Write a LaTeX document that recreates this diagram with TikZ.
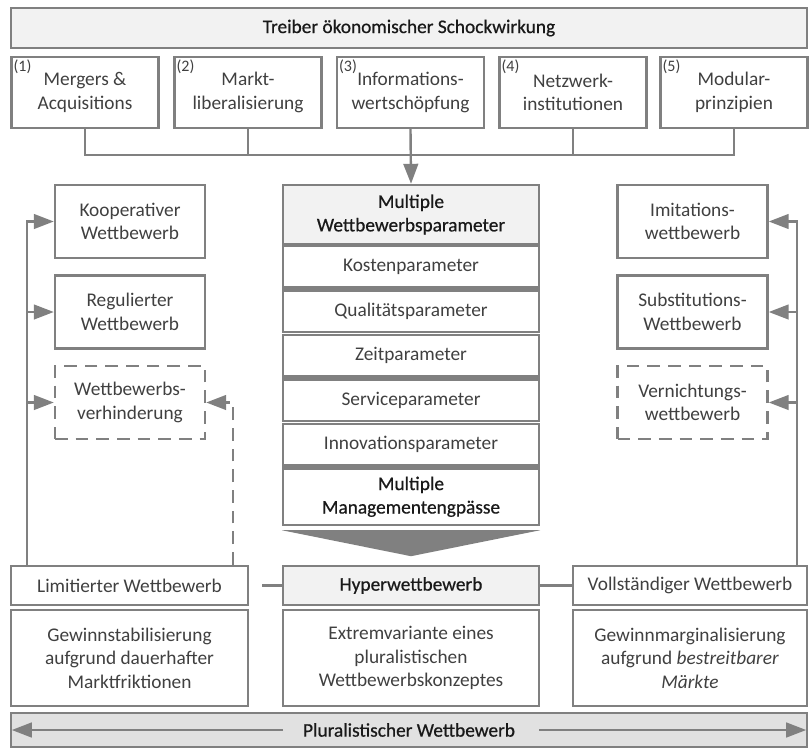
\documentclass[tikz,border=0pt]{standalone}
\usepackage{fontspec}
\setmainfont{Carlito}
\newfontfamily\heavyfont[FakeBold=0.6]{Carlito}
\usetikzlibrary{arrows.meta}
\usetikzlibrary{positioning}
\usetikzlibrary{calc}
\definecolor{linegray}{RGB}{128,128,128}
\definecolor{textgray}{RGB}{64,64,64}
\definecolor{lightfill}{RGB}{242,242,242}
\definecolor{plurfill}{RGB}{225,225,225}

\begin{document}
\begin{tikzpicture}[x=0.75pt,y=0.75pt,yscale=-1,xscale=1,
  box/.style={draw=linegray, line width=1.8pt, fill=white, inner sep=0pt, align=center, text=textgray, font=\fontsize{14.5}{17.6}\selectfont},
  dbox/.style={box, dash pattern={on 9.5pt off 6pt}},
  hbox/.style={box, fill=lightfill, text=black!90, font=\heavyfont\fontsize{14.5}{17.6}\selectfont},
  numlbl/.style={anchor=north west, inner sep=0pt, text=textgray, font=\fontsize{12}{14}\selectfont},
  conn/.style={draw=linegray, line width=1.8pt},
  garrow/.style={conn, -{Triangle[length=15pt,width=11pt]}}
]

\useasboundingbox (0,0) rectangle (809,749);

% Treiber
\node[hbox, minimum width=597pt, minimum height=30pt] (treiber) at (409,28) {Treiber ökonomischer Schockwirkung};

\node[box, minimum width=110.25pt, minimum height=53.25pt] (d1) at (85,92.5)    {Mergers \&\\Acquisitions};
\node[box, minimum width=110.25pt, minimum height=53.25pt] (d2) at (248,92.5)   {Markt-\\liberalisierung};
\node[box, minimum width=110.25pt, minimum height=53.25pt] (d3) at (410.5,92.5) {Informations-\\wertschöpfung};
\node[box, minimum width=110.25pt, minimum height=53.25pt] (d4) at (573,92.5)   {Netzwerk-\\institutionen};
\node[box, minimum width=110.25pt, minimum height=53.25pt] (d5) at (734,92.5)   {Modular-\\prinzipien};

\node[numlbl] (n1) at ($(d1.north west)+(3,4)$) {(1)};
\node[numlbl] (n2) at ($(d2.north west)+(3,4)$) {(2)};
\node[numlbl] (n3) at ($(d3.north west)+(3,4)$) {(3)};
\node[numlbl] (n4) at ($(d4.north west)+(3,4)$) {(4)};
\node[numlbl] (n5) at ($(d5.north west)+(3,4)$) {(5)};

% Parameter column
\node[hbox, minimum width=192pt, minimum height=44.25pt] (mwp) at (411,214.5) {Multiple\\Wettbewerbsparameter};
\node[box, minimum width=192pt, minimum height=31.125pt] (kost) at (411,266.75) {Kostenparameter};
\node[box, minimum width=192pt, minimum height=31.125pt] (qual) at (411,311.25) {Qualitätsparameter};
\node[box, minimum width=192pt, minimum height=31.125pt] (zeit) at (411,355.75) {Zeitparameter};
\node[box, minimum width=192pt, minimum height=31.125pt] (serv) at (411,400.25) {Serviceparameter};
\node[box, minimum width=192pt, minimum height=31.125pt] (inno) at (411,444.75) {Innovationsparameter};
\node[box, minimum width=192pt, minimum height=42.375pt, text=black!90, font=\heavyfont\fontsize{14.5}{17.6}\selectfont] (mme) at (411,496.75) {Multiple\\Managementengpässe};

% Chevron
\fill[linegray] ($(mme.south west)+(0,4)$) -- ($(mme.south east)+(0,4)$) -- ($(mme.south)+(0,30)$) -- cycle;

% Left and right forms
\node[box,  minimum width=112.5pt, minimum height=54.75pt] (koop) at (130,221.5) {Kooperativer\\Wettbewerb};
\node[box,  minimum width=112.5pt, minimum height=54.75pt] (regu) at (130,312)   {Regulierter\\Wettbewerb};
\node[dbox, minimum width=112.5pt, minimum height=54.75pt] (verh) at (130,402.5) {Wettbewerbs-\\verhinderung};
\node[box,  minimum width=112.5pt, minimum height=54.75pt] (imit) at (692.5,221.5) {Imitations-\\wettbewerb};
\node[box,  minimum width=112.5pt, minimum height=54.75pt] (subs) at (692.5,312)   {Substitutions-\\Wettbewerb};
\node[dbox, minimum width=112.5pt, minimum height=54.75pt] (vern) at (692.5,402.5) {Vernichtungs-\\wettbewerb};

% Bottom row
\node[box,  minimum width=177.75pt, minimum height=29.25pt] (lim)  at (129.5,585.5) {Limitierter Wettbewerb};
\node[hbox, minimum width=192pt,    minimum height=29.25pt] (hyp)  at (411,585.5)   {Hyperwettbewerb};
\node[box,  minimum width=175.5pt,  minimum height=29.25pt] (voll) at (690,585.5)   {Vollständiger Wettbewerb};

\node[box, minimum width=177.75pt, minimum height=72pt] (glim)  at (129.5,658) {Gewinnstabilisierung\\aufgrund dauerhafter\\Marktfriktionen};
\node[box, minimum width=192pt,    minimum height=72pt] (ghyp)  at (411,658)   {Extremvariante eines\\pluralistischen\\Wettbewerbskonzeptes};
\node[box, minimum width=175.5pt,  minimum height=72pt] (gvoll) at (690,658)   {Gewinnmarginalisierung\\aufgrund \textit{bestreitbarer}\\\textit{Märkte}};

\node[hbox, fill=plurfill, minimum width=597pt, minimum height=25.5pt] (plural) at (409,730) {Pluralistischer Wettbewerb};

% Connectors
\coordinate (bus)  at (410.5,155);
\coordinate (lbus) at (27,0);
\coordinate (dbus) at (233,0);
\coordinate (rbus) at (797,0);
\coordinate (lgap) at (262,585.5);
\coordinate (plL)  at (283,730);
\coordinate (plR)  at (539,730);

\draw[conn] (d1.south) |- (bus) -| (d5.south);
\draw[conn] (d2.south) -- (d2.south |- bus);
\draw[conn] (d4.south) -- (d4.south |- bus);
\draw[garrow] (d3.south) -- (mwp.north);

\draw[garrow] (lim.north -| lbus) |- (koop.west);
\draw[garrow] (regu.west -| lbus) -- (regu.west);
\draw[garrow] (verh.west -| lbus) -- (verh.west);
\draw[garrow, dash pattern={on 9.5pt off 6pt}] (lim.north -| dbus) |- (verh.east);

\draw[garrow] (voll.north -| rbus) |- (imit.east);
\draw[garrow] (subs.east -| rbus) -- (subs.east);
\draw[garrow] (vern.east -| rbus) -- (vern.east);

\draw[conn] (hyp.west) -- (lgap);
\draw[conn] (hyp.east) -- (voll.west);

\draw[garrow] (plL) -- ($(plural.west)+(2,0)$);
\draw[garrow] (plR) -- ($(plural.east)+(-2,0)$);

\end{tikzpicture}
\end{document}
